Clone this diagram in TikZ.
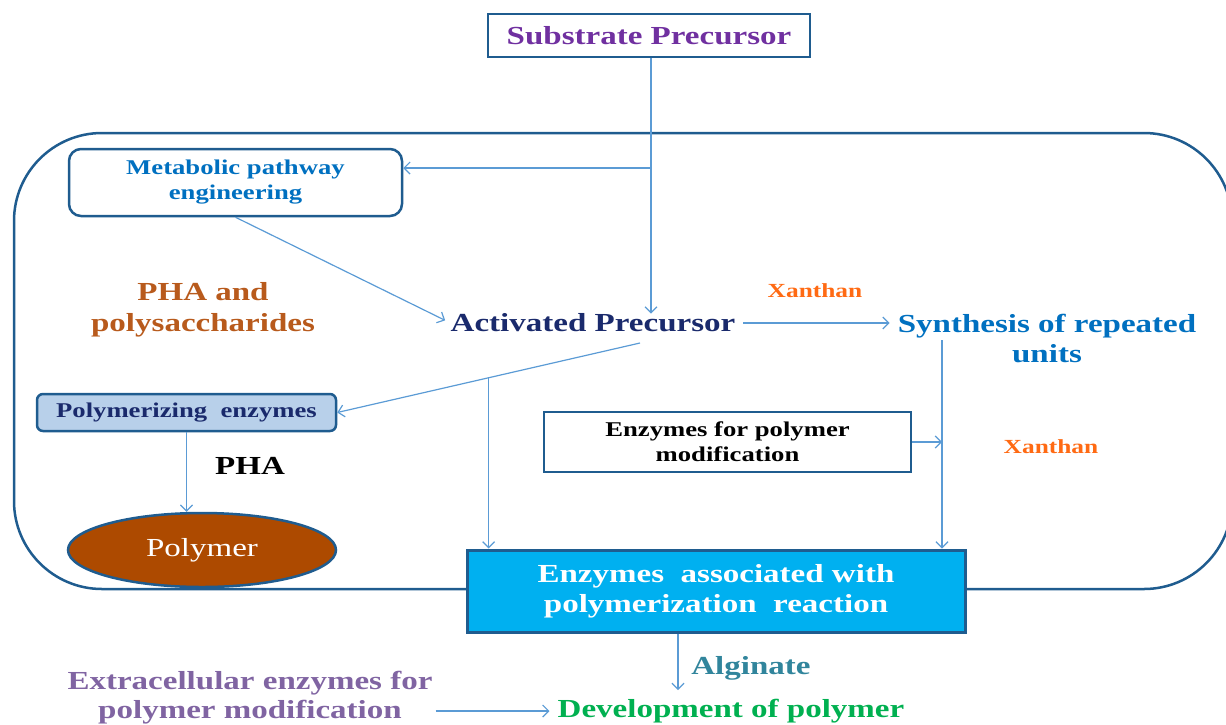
\documentclass[tikz,border=0pt]{standalone}
\usepackage{fontspec}
\setmainfont{Liberation Serif}[FakeStretch=1.27]
\usetikzlibrary{arrows.meta,shapes.geometric,calc}
\definecolor{cellblue}{HTML}{1F5C8F}
\definecolor{arrowblue}{HTML}{5B9BD5}
\definecolor{subpurple}{HTML}{7030A0}
\definecolor{metblue}{HTML}{0070C0}
\definecolor{phabrown}{HTML}{B85A1C}
\definecolor{navy}{HTML}{1A2A6C}
\definecolor{xorange}{HTML}{FF6A13}
\definecolor{polfill}{HTML}{B8D0EA}
\definecolor{polbrown}{HTML}{AD4A00}
\definecolor{enzfill}{HTML}{00B0F0}
\definecolor{algteal}{HTML}{31859C}
\definecolor{devgreen}{HTML}{00B050}
\definecolor{extpurple}{HTML}{8064A2}
\newcommand\bigf{\fontsize{26}{30}\selectfont\bfseries}
\newcommand\smallf{\fontsize{21}{25}\selectfont\bfseries}
\newcommand\xanf{\fontsize{20}{24}\selectfont\bfseries}
\begin{document}
\begin{tikzpicture}[x=1pt,y=-1pt,
  conn/.style={draw=arrowblue, line width=1.2pt, -{Straight Barb[length=6pt,width=12pt]}},
  box/.style={draw=cellblue, line width=2.5pt, inner sep=0pt, align=center},
  lbl/.style={inner sep=0pt, align=center}]
\useasboundingbox (0,0) rectangle (1226,724);
\clip (0,0) rectangle (1226,724);
\draw[cellblue, line width=2.5pt, rounded corners=88pt] (14,133) rectangle (1232,589);

\node[box, minimum width=322pt, minimum height=43pt, text=subpurple, font=\bigf] (sub) at (649,35.5) {Substrate Precursor};
\node[box, rounded corners=12pt, minimum width=333pt, minimum height=67pt, text=metblue, font=\smallf] (met) at (235.5,182.5) {Metabolic pathway\\engineering};
\node[lbl, text=phabrown, font=\fontsize{26}{31}\selectfont\bfseries] (pha) at (203,310) {PHA and\\polysaccharides};
\node[lbl, text=navy, font=\bigf] (act) at (593,323) {Activated Precursor};
\node[lbl, text=metblue, font=\bigf] (syn) at (1047,338) {Synthesis of repeated\\units};
\node[lbl, text=xorange, font=\xanf] (xan1) at (815,291) {Xanthan};
\node[box, fill=polfill, rounded corners=6pt, minimum width=299pt, minimum height=37pt, text=navy, font=\smallf] (pol) at (186.5,412.5) {Polymerizing\ \ enzymes};
\node[lbl, font=\bigf] (pha2) at (250,466) {PHA};
\node[ellipse, draw=cellblue, line width=2.5pt, fill=polbrown, minimum width=268pt, minimum height=74pt, inner sep=0pt, text=white, font=\fontsize{26}{30}\selectfont] (polym) at (202,550) {Polymer};
\node[box, minimum width=367pt, minimum height=60pt, font=\smallf] (efm) at (727.5,442) {Enzymes for polymer\\modification};
\node[lbl, text=xorange, font=\xanf] (xan2) at (1051,447) {Xanthan};
\node[box, line width=3pt, fill=enzfill, minimum width=498pt, minimum height=82pt, text=white, font=\bigf] (enz) at (716,591) {Enzymes\ \ associated with\\polymerization\ \ reaction};
\node[lbl, text=algteal, font=\bigf] (alg) at (751,668) {Alginate};
\node[lbl, text=devgreen, font=\bigf] (dev) at (731,711) {Development of polymer};
\node[lbl, text=extpurple, font=\fontsize{26}{29}\selectfont\bfseries] (ext) at (250,697.5) {Extracellular enzymes for\\polymer modification};

\coordinate (j1) at (651,168);
\coordinate (a1) at (640,343);
\coordinate (s1) at (942,340);
\coordinate (d1) at (678,690);
\draw[conn] (sub.south -| j1) -- (j1 |- act.north);
\draw[conn] (j1) -- (met.east |- j1);
\draw[conn, shorten >=6pt] (met.south) -- (act.west);
\draw[conn] (a1) -- (pol.east);
\coordinate (b1) at ($(a1)!0.5!(pol.east)$);
\draw[conn] (b1) -- (b1 |- enz.north);
\draw[conn] (pol.south) -- (pol.south |- polym.north);
\draw[conn] (s1) -- (s1 |- enz.north);
\draw[conn] (efm.east) -- (efm.east -| s1);
\draw[conn, shorten <=8pt, shorten >=8pt] (act.east) -- (act.east -| syn.west);
\draw[conn] (d1 |- enz.south) -- (d1);
\draw[conn, shorten <=3pt, shorten >=8pt] (ext.east |- dev.west) -- (dev.west);
\end{tikzpicture}
\end{document}
